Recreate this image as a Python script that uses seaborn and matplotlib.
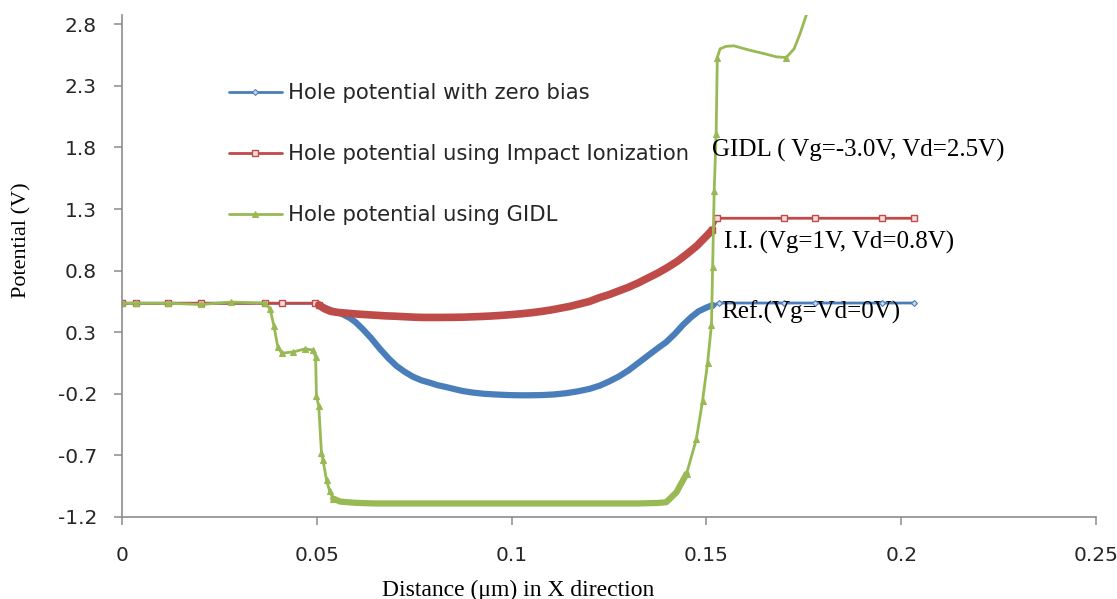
import numpy as np
import pandas as pd
import matplotlib
matplotlib.use("Agg")
import matplotlib.pyplot as plt
import seaborn as sns

# =========================
# Data
# =========================
x_zero = [0, 0.0036, 0.0118, 0.0203, 0.0367, 0.041, 0.0495, 0.0505, 0.052, 0.0535,
          0.055, 0.0567, 0.0585, 0.060, 0.0618, 0.064, 0.0662, 0.0685, 0.0705, 0.0725,
          0.0746, 0.0768, 0.079, 0.081, 0.0833, 0.0855, 0.0874, 0.090, 0.093, 0.0962,
          0.099, 0.102, 0.1046, 0.108, 0.111, 0.114, 0.117, 0.120, 0.1226, 0.125,
          0.1275, 0.130, 0.1325, 0.135, 0.1375, 0.1397, 0.142, 0.144, 0.146, 0.148,
          0.150, 0.1516, 0.1533, 0.170, 0.178, 0.195, 0.2033]
y_zero = [0.535, 0.535, 0.535, 0.535, 0.535, 0.535, 0.535, 0.525, 0.50, 0.48,
          0.465, 0.445, 0.415, 0.38, 0.325, 0.25, 0.165, 0.085, 0.025, -0.02,
          -0.06, -0.09, -0.11, -0.13, -0.146, -0.163, -0.177, -0.19, -0.20, -0.206,
          -0.21, -0.212, -0.212, -0.21, -0.205, -0.195, -0.18, -0.16, -0.134, -0.10,
          -0.06, -0.01, 0.05, 0.11, 0.17, 0.22, 0.29, 0.36, 0.42, 0.47,
          0.50, 0.52, 0.537, 0.537, 0.537, 0.537, 0.537]

x_ii = [0, 0.0036, 0.0118, 0.0203, 0.0367, 0.041, 0.0495, 0.0505, 0.052, 0.0535,
        0.055, 0.0575, 0.060, 0.0625, 0.065, 0.0675, 0.070, 0.0725, 0.075, 0.0775,
        0.080, 0.0825, 0.085, 0.0875, 0.090, 0.0925, 0.095, 0.0975, 0.100, 0.1025,
        0.105, 0.1075, 0.110, 0.1125, 0.115, 0.1175, 0.120, 0.1225, 0.125, 0.1275,
        0.130, 0.1325, 0.135, 0.1375, 0.140, 0.1425, 0.145, 0.1475, 0.150, 0.1515,
        0.1528, 0.170, 0.178, 0.195, 0.2033]
y_ii = [0.535, 0.535, 0.535, 0.535, 0.535, 0.535, 0.535, 0.52, 0.49, 0.47,
        0.462, 0.455, 0.448, 0.443, 0.438, 0.433, 0.43, 0.426, 0.422, 0.42,
        0.42, 0.42, 0.421, 0.422, 0.425, 0.428, 0.432, 0.437, 0.443, 0.45,
        0.458, 0.468, 0.48, 0.495, 0.51, 0.53, 0.55, 0.58, 0.605, 0.635,
        0.665, 0.70, 0.74, 0.78, 0.825, 0.875, 0.935, 1.0, 1.08, 1.13,
        1.225, 1.225, 1.225, 1.225, 1.225]

x_gidl = [0, 0.0036, 0.0118, 0.0203, 0.028, 0.0367, 0.038, 0.039, 0.040, 0.041,
          0.044, 0.047, 0.049, 0.0497, 0.0499, 0.0505, 0.0512, 0.0516, 0.0525, 0.0533,
          0.0542, 0.056, 0.058, 0.060, 0.0625, 0.065, 0.0675, 0.070, 0.0725, 0.075,
          0.0775, 0.080, 0.0825, 0.085, 0.0875, 0.090, 0.0925, 0.095, 0.0975, 0.100,
          0.1025, 0.105, 0.1075, 0.110, 0.1125, 0.115, 0.1175, 0.120, 0.1225, 0.125,
          0.1275, 0.130, 0.1325, 0.135, 0.1375, 0.1397, 0.1423, 0.1449, 0.1474, 0.149,
          0.1503, 0.1513, 0.1516, 0.152, 0.1525, 0.1528, 0.1535, 0.155, 0.157, 0.161,
          0.165, 0.168, 0.1705, 0.1725, 0.174, 0.1756, 0.179]
y_gidl = [0.535, 0.535, 0.535, 0.525, 0.545, 0.535, 0.49, 0.35, 0.18, 0.13,
          0.14, 0.165, 0.155, 0.10, -0.22, -0.30, -0.68, -0.74, -0.90, -0.99,
          -1.05, -1.075, -1.08, -1.085, -1.088, -1.09, -1.09, -1.09, -1.09, -1.09,
          -1.09, -1.09, -1.09, -1.09, -1.09, -1.09, -1.09, -1.09, -1.09, -1.09,
          -1.09, -1.09, -1.09, -1.09, -1.09, -1.09, -1.09, -1.09, -1.09, -1.09,
          -1.09, -1.09, -1.09, -1.088, -1.086, -1.08, -1.0, -0.85, -0.57, -0.26,
          0.05, 0.36, 0.83, 1.45, 1.91, 2.53, 2.6, 2.62, 2.625, 2.59,
          2.56, 2.535, 2.53, 2.6, 2.72, 2.87, 3.3]

series_names = ["Hole potential with zero bias",
                "Hole potential using Impact Ionization",
                "Hole potential using GIDL"]
series_colors = ["#4A7EBB", "#BE4B48", "#98B954"]

# x-range where the simulation mesh is dense (markers merge into a thick band)
dense_lo = [0.0505, 0.0505, 0.0542]
dense_hi = [0.1516, 0.1515, 0.1449]
# points on the smooth GIDL top curve that carry no visible marker
green_plain_x = [0.1535, 0.155, 0.157, 0.161, 0.165, 0.168, 0.1725, 0.174, 0.1756]

x_ticks = [0, 0.05, 0.1, 0.15, 0.2, 0.25]
x_tick_labels = ["0", "0.05", "0.1", "0.15", "0.2", "0.25"]
y_ticks = [-1.2, -0.7, -0.2, 0.3, 0.8, 1.3, 1.8, 2.3, 2.8]
y_tick_labels = ["-1.2", "-0.7", "-0.2", "0.3", "0.8", "1.3", "1.8", "2.3", "2.8"]

annotations = ["GIDL ( Vg=-3.0V, Vd=2.5V)", "I.I. (Vg=1V, Vd=0.8V)", "Ref.(Vg=Vd=0V)"]
annot_x = [0.1515, 0.1546, 0.1538]
annot_y = [1.777, 1.03, 0.462]

df = pd.concat([
    pd.DataFrame({"x": x_zero, "y": y_zero, "series": series_names[0]}),
    pd.DataFrame({"x": x_ii, "y": y_ii, "series": series_names[1]}),
    pd.DataFrame({"x": x_gidl, "y": y_gidl, "series": series_names[2]}),
], ignore_index=True)

# =========================
# Plot
# =========================
sns.set_style("white")
plt.rcParams["font.family"] = ["DejaVu Sans"]

fig = plt.figure(figsize=(11.17, 5.99), dpi=100)
ax = fig.add_axes([122 / 1117, 82 / 599, (1096 - 122) / 1117, (517 - 15) / 599])

marker_styles = {
    series_names[0]: dict(marker="D", markersize=3, markerfacecolor="#c9d8ee", markeredgewidth=0.8),
    series_names[1]: dict(marker="s", markersize=4.5, markerfacecolor="#f4dcdc", markeredgewidth=1.0),
    series_names[2]: dict(marker="^", markersize=4.5, markeredgewidth=0.8),
}
band_width = [4.5, 5.5, 4.5]

for i, (name, color) in enumerate(zip(series_names, series_colors)):
    sub = df[df["series"] == name].reset_index(drop=True)
    in_band = (sub["x"] > dense_lo[i]) & (sub["x"] < dense_hi[i])
    if i == 2:
        in_band = in_band | sub["x"].isin(green_plain_x)
    sparse_idx = list(np.where(~in_band)[0])
    sns.lineplot(data=sub, x="x", y="y", ax=ax, color=color, label=name,
                 estimator=None, sort=False, linewidth=2.0,
                 markeredgecolor=color, markevery=sparse_idx, **marker_styles[name])
    band = sub[(sub["x"] >= dense_lo[i]) & (sub["x"] <= dense_hi[i])]
    sns.lineplot(data=band, x="x", y="y", ax=ax, color=color, estimator=None,
                 sort=False, linewidth=band_width[i], legend=False,
                 solid_capstyle="round", solid_joinstyle="round")

ax.set_xlim(0, 0.25)
ax.set_ylim(-1.2, 2.875)
ax.set_xticks(x_ticks)
ax.set_xticklabels(x_tick_labels)
ax.set_yticks(y_ticks)
ax.set_yticklabels(y_tick_labels)
ax.set_xlabel("")
ax.set_ylabel("")

for side in ["top", "right"]:
    ax.spines[side].set_visible(False)
for side in ["left", "bottom"]:
    ax.spines[side].set_color("#8c8c8c")
    ax.spines[side].set_linewidth(1.2)

ax.tick_params(axis="x", direction="out", length=6, width=1.1, color="#8c8c8c",
               pad=15, labelsize=14.5, labelcolor="#262626", bottom=True)
ax.tick_params(axis="y", direction="out", length=6, width=1.1, color="#8c8c8c",
               pad=12, labelsize=14.5, labelcolor="#262626", left=True)

for txt, tx, ty in zip(annotations, annot_x, annot_y):
    ax.text(tx, ty, txt, ha="left", va="center", fontsize=18,
            family="Liberation Serif", color="black")

fig.text(518 / 1117, 1 - 590 / 599, "Distance (μm) in X direction", ha="center",
         va="center", fontsize=17, family="Liberation Serif", color="black")
fig.text(22 / 1117, 1 - 240 / 599, "Potential (V)", ha="center", va="center",
         rotation=90, fontsize=16, family="Liberation Serif", color="black")

leg = ax.legend(loc="upper left", bbox_to_anchor=(229 / 1117, 1 - 83 / 599),
                bbox_transform=fig.transFigure, frameon=False, fontsize=15.2,
                handlelength=2.5, handletextpad=0.3, labelspacing=1.95,
                borderpad=0, borderaxespad=0, numpoints=1)
for t in leg.get_texts():
    t.set_color("#262626")

fig.savefig("out.png", dpi=100)
